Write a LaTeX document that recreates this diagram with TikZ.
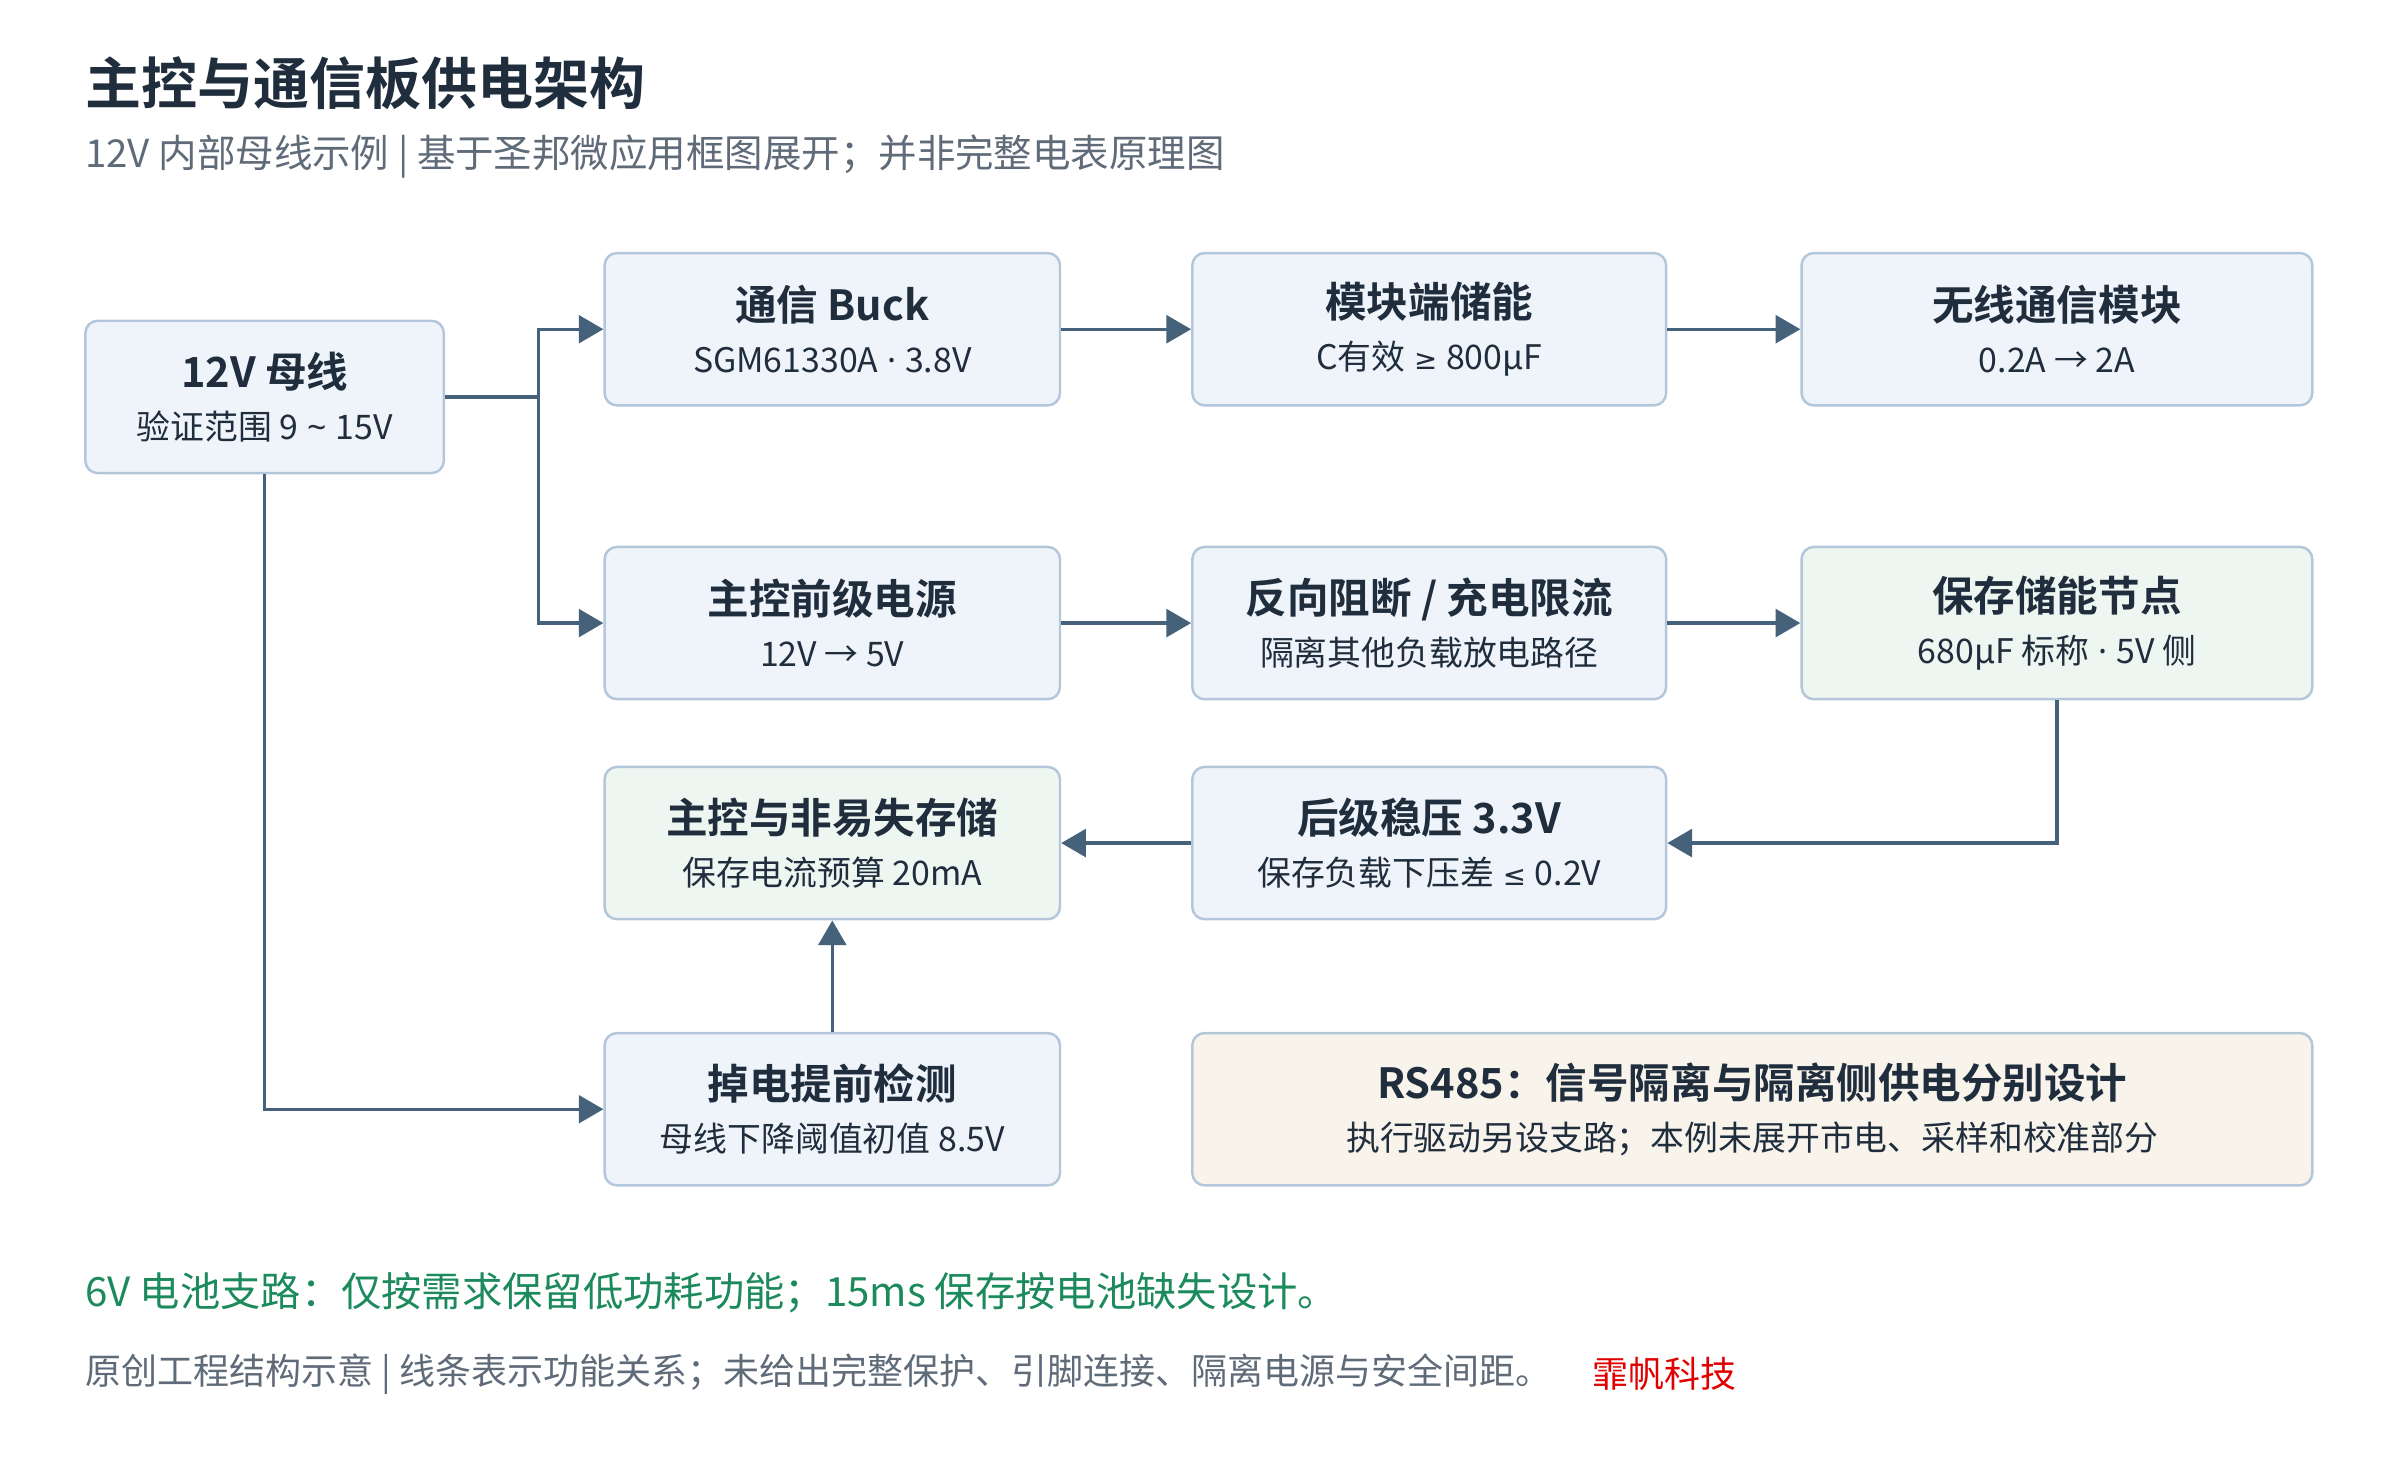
\documentclass[tikz,border=0pt]{standalone}
\usepackage{fontspec}
\setmainfont{Noto Sans CJK SC}[BoldFont={Noto Sans CJK SC Bold}]
\newfontfamily\lat{Noto Sans}
\newfontfamily\sym{DejaVu Sans}
\usetikzlibrary{arrows.meta}
\definecolor{ink}{HTML}{1F2D3D}
\definecolor{grey}{HTML}{5F6B78}
\definecolor{wire}{HTML}{46617A}
\definecolor{edge}{HTML}{B4C6DA}
\definecolor{blue}{HTML}{EFF4FB}
\definecolor{mint}{HTML}{EEF6F1}
\definecolor{sand}{HTML}{F8F4EC}
\definecolor{leaf}{HTML}{1C8A5C}
\newcommand{\boxtext}[2]{{\bfseries\fontsize{13.5}{16}\selectfont #1}\\[5pt]{\fontsize{11}{13}\selectfont #2}}
\tikzset{
  blk/.style={draw=edge,line width=0.8pt,fill=blue,rounded corners=4pt,align=center,text=ink,minimum height=49.5pt,inner sep=0pt},
  link/.style={draw=wire,line width=1.1pt,-{Triangle[length=8pt,width=9pt]}},
  txt/.style={anchor=west,inner sep=0pt}
}
\begin{document}
\begin{tikzpicture}[x=0.5pt,y=-0.5pt]
\useasboundingbox (0,0) rectangle (1560,962);

% titles
\node [txt,text=ink,font=\bfseries\fontsize{18.2}{21}\selectfont] (title) at (55,54) {主控与通信板供电架构};
\node [txt,text=grey,font=\fontsize{12.5}{15}\selectfont] (subtitle) at (55,102) {12V 内部母线示例 | 基于圣邦微应用框图展开；并非完整电表原理图};

% blocks
\node [blk,minimum width=116.5pt] (bus) at (172,258) {\boxtext{12V 母线}{验证范围 9{\lat\ \char"7E\ }15V}};
\node [blk,minimum width=148pt] (buck) at (541,214) {\boxtext{通信 Buck}{SGM61330A{\lat\ ·\ }3.8V}};
\node [blk,minimum width=154pt] (cap) at (929,214) {\boxtext{模块端储能}{C有效{\lat\ }{\sym\small ≥}{\lat\ }800μF}};
\node [blk,minimum width=166pt] (radio) at (1337,214) {\boxtext{无线通信模块}{0.2A → 2A}};
\node [blk,minimum width=148pt] (pre) at (541,405) {\boxtext{主控前级电源}{12V → 5V}};
\node [blk,minimum width=154pt] (block) at (929,405) {\boxtext{反向阻断 / 充电限流}{隔离其他负载放电路径}};
\node [blk,minimum width=166pt,fill=mint] (hold) at (1337,405) {\boxtext{保存储能节点}{680μF 标称{\lat\ ·\ }5V 侧}};
\node [blk,minimum width=148pt,fill=mint] (mcu) at (541,548) {\boxtext{主控与非易失存储}{保存电流预算 20mA}};
\node [blk,minimum width=154pt] (ldo) at (929,548) {\boxtext{后级稳压 3.3V}{保存负载下压差{\lat\ }{\sym\small ≤}{\lat\ }0.2V}};
\node [blk,minimum width=148pt] (detect) at (541,721) {\boxtext{掉电提前检测}{母线下降阈值初值 8.5V}};
\node [blk,minimum width=364pt,fill=sand] (rs485) at (1139,721) {\boxtext{RS485：信号隔离与隔离侧供电分别设计}{执行驱动另设支路；本例未展开市电、采样和校准部分}};

% connectors
\coordinate (fork) at (350,258);
\draw [link] (bus.east) -- (fork) |- (buck.west);
\draw [link] (fork) |- (pre.west);
\draw [link] (buck) -- (cap);
\draw [link] (cap) -- (radio);
\draw [link] (pre) -- (block);
\draw [link] (block) -- (hold);
\draw [link] (hold.south) |- (ldo.east);
\draw [link] (ldo) -- (mcu);
\draw [link] (detect) -- (mcu);
\draw [link] (bus.south) |- (detect.west);

% notes
\node [txt,text=leaf,font=\fontsize{13.1}{16}\selectfont] (note) at (55,840) {6V 电池支路：仅按需求保留低功耗功能；15ms 保存按电池缺失设计。};
\node [txt,text=grey,font=\fontsize{11.7}{14}\selectfont] (foot) at (55,893) {原创工程结构示意 | 线条表示功能关系；未给出完整保护、引脚连接、隔离电源与安全间距。};
\node [txt,text=red!88!black,font=\fontsize{11.7}{14}\selectfont] (brand) at (1035,893) {霏帆科技};
\end{tikzpicture}
\end{document}
